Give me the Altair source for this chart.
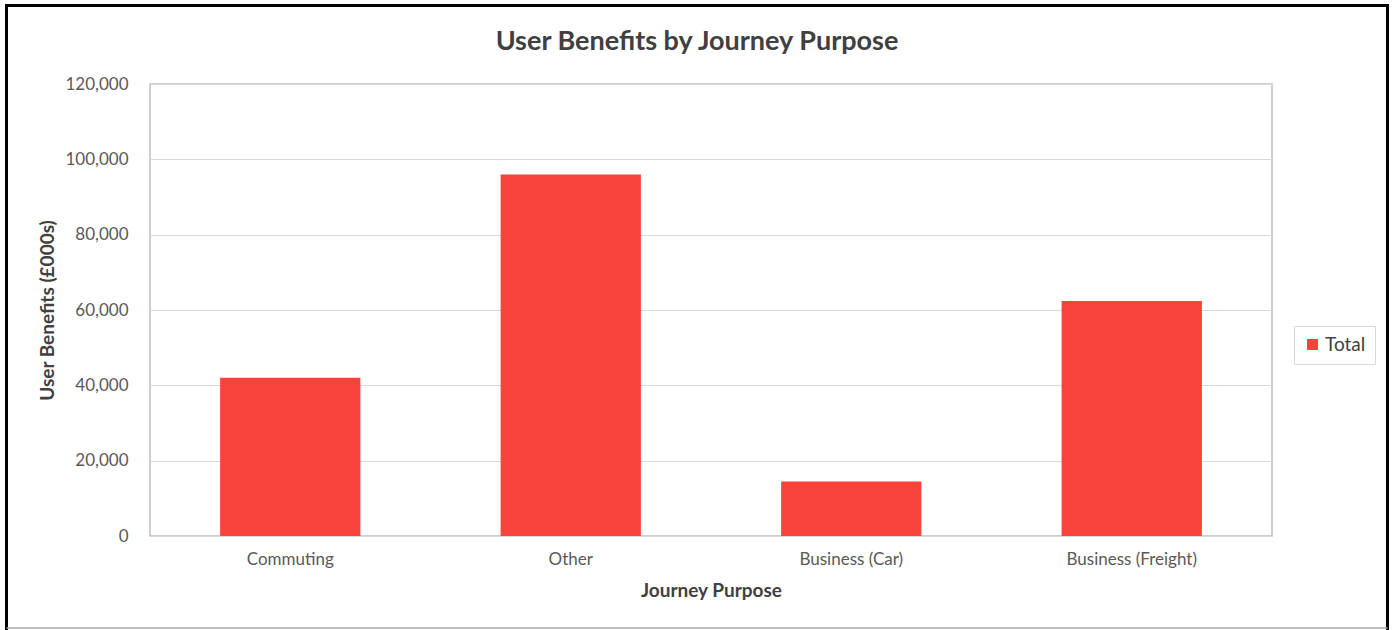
import altair as alt
import pandas as pd

categories = ["Commuting", "Other", "Business (Car)", "Business (Freight)"]
values = [42000, 96000, 14500, 62400]
series = ["Total", "Total", "Total", "Total"]
y_ticks = [0, 20000, 40000, 60000, 80000, 100000, 120000]
chart_title = "User Benefits by Journey Purpose"

df = pd.DataFrame({"purpose": categories, "benefit": values, "series": series})

FONT = "Lato"
LABEL = "#595959"
DARK = "#404040"
RED = "#F8433B"

bars = alt.Chart(df).mark_bar().encode(
    x=alt.X(
        "purpose:N",
        sort=categories,
        title="Journey Purpose",
        scale=alt.Scale(paddingInner=0.5, paddingOuter=0.25),
        axis=alt.Axis(labelAngle=0, labelPadding=15, titlePadding=14, ticks=False, domain=False),
    ),
    y=alt.Y(
        "benefit:Q",
        title="User Benefits (£000s)",
        scale=alt.Scale(domain=[0, 120000], nice=False),
        axis=alt.Axis(values=y_ticks, format=",.0f", labelPadding=22, titlePadding=7,
                      ticks=False, domain=False, gridColor="#D9D9D9"),
    ),
    color=alt.Color(
        "series:N",
        title=None,
        scale=alt.Scale(domain=["Total"], range=[RED]),
        legend=alt.Legend(orient="none", legendX=1144, legendY=242, symbolType="square",
                          symbolSize=121, symbolStrokeWidth=0, labelFontSize=19,
                          labelFont=FONT, labelColor=DARK, strokeColor="#D9D9D9",
                          padding=9, labelOffset=3),
    ),
)

one = pd.DataFrame({"a": [0]})
frame = alt.Chart(one).mark_rect(filled=False, stroke="black", strokeWidth=3).encode(
    x=alt.value(-143.5), x2=alt.value(1237.5), y=alt.value(-78.5), y2=alt.value(560)
)
bottom = alt.Chart(one).mark_rule(stroke="#A6A6A6", strokeWidth=1.5).encode(
    x=alt.value(-143.5), x2=alt.value(1237.5), y=alt.value(544)
)
title = alt.Chart(one).mark_text(
    text=chart_title, font=FONT, fontSize=27, fontWeight="bold", color=DARK,
    align="center", baseline="middle"
).encode(x=alt.value(547), y=alt.value(-42))

chart = alt.layer(bars, frame, bottom, title).properties(
    width=1122,
    height=452,
    padding={"left": 150, "top": 84, "right": 122, "bottom": 94},
    autosize=alt.AutoSizeParams(type="none"),
    background="white",
).configure_view(
    stroke="#BFBFBF", strokeWidth=1.5
).configure_axis(
    labelFont=FONT, labelFontSize=17, labelColor=LABEL,
    titleFont=FONT, titleFontSize=19, titleFontWeight="bold", titleColor=DARK,
)

chart.save("out.html", embed_options={"renderer": "svg", "actions": False})
